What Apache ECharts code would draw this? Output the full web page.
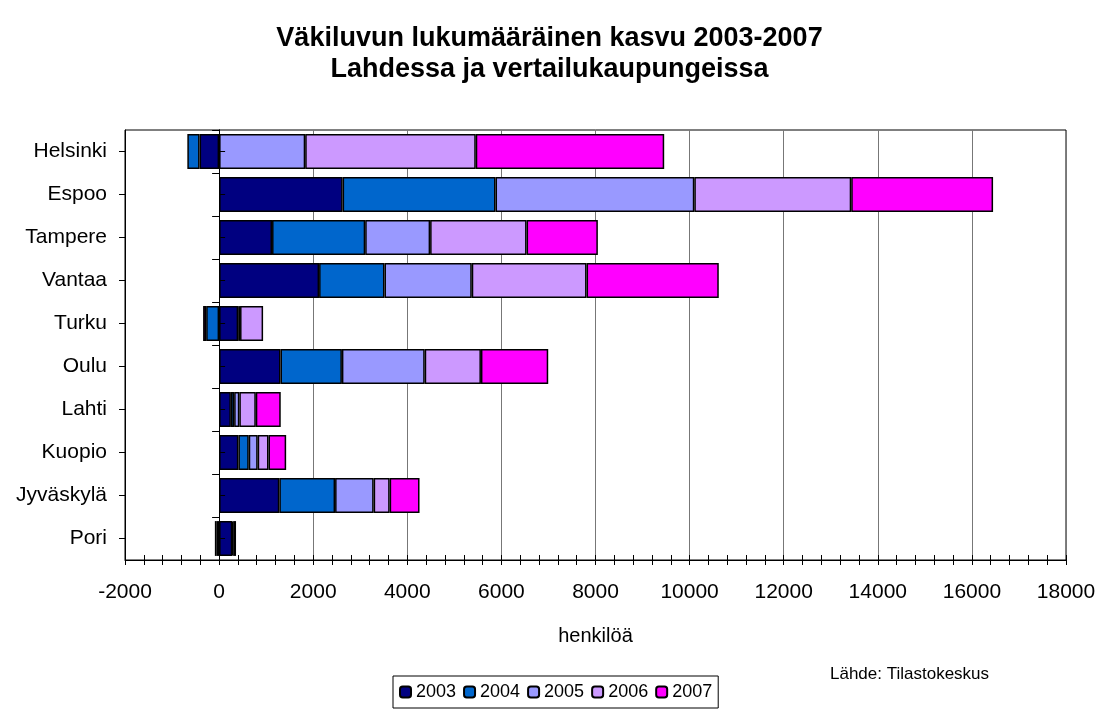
<!DOCTYPE html>
<html>
<head>
<meta charset="utf-8">
<script src="https://cdn.jsdelivr.net/npm/echarts@6/dist/echarts.min.js"></script>
<style>
  html, body { margin: 0; padding: 0; background: #fff; }
  #chart { width: 1099px; height: 713px; }
</style>
</head>
<body>
<div id="chart"></div>
<script>
// kaupungit ylhäältä alas
var cities = ['Helsinki', 'Espoo', 'Tampere', 'Vantaa', 'Turku', 'Oulu', 'Lahti', 'Kuopio', 'Jyväskylä', 'Pori']
var years = ['2003', '2004', '2005', '2006', '2007']
var v2003 = [-415, 2625, 1125, 2125, 405, 1305, 250, 410, 1280, 280]
var v2004 = [-260, 3250, 1980, 1390, -275, 1305, 70, 220, 1185, -50]
var v2005 = [1830, 4225, 1380, 1855, 40, 1760, 110, 190, 820, -40]
var v2006 = [3625, 3335, 2050, 2440, 490, 1195, 350, 230, 340, 20]
var v2007 = [4005, 3015, 1515, 2810, -65, 1430, 530, 375, 635, 60]
var colors = ['#000080', '#0066CC', '#9999FF', '#CC99FF', '#FF00FF']

var font = "'Liberation Sans', Arial, sans-serif"
var myChart = echarts.init(document.getElementById('chart'))

var values = [v2003, v2004, v2005, v2006, v2007]
var series = years.map(function (y, i) {
  return {
    name: y,
    type: 'bar',
    stack: 'kasvu',
    barCategoryGap: '19%',
    itemStyle: { color: colors[i], borderColor: '#000', borderWidth: 1.5 },
    data: values[i]
  }
})

// akseliviiva nollakohdassa + tikit
function markerAxis (extra) {
  var ax = {
    type: 'category',
    data: cities,
    inverse: true,
    position: 'left',
    z: 5,
    axisLine: { show: true, onZero: true, lineStyle: { color: '#000', width: 1 } },
    axisLabel: { show: false },
    splitLine: { show: false }
  }
  return Object.assign(ax, extra)
}

function xBase (extra) {
  var ax = {
    type: 'value',
    min: -2000,
    max: 18000,
    interval: 2000,
    position: 'bottom'
  }
  return Object.assign(ax, extra)
}

var option = {
  animation: false,
  textStyle: { fontFamily: font },
  color: colors,
  title: {
    text: 'Väkiluvun lukumääräinen kasvu 2003-2007\nLahdessa ja vertailukaupungeissa',
    left: 'center',
    top: 18,
    textStyle: { fontFamily: font, fontSize: 27, fontWeight: 'bold', lineHeight: 31, color: '#000' }
  },
  legend: {
    data: years,
    left: 393,
    top: 676,
    orient: 'horizontal',
    itemWidth: 11,
    itemHeight: 11,
    itemGap: 7,
    padding: [7, 6],
    borderColor: '#000',
    borderWidth: 1,
    textStyle: { fontFamily: font, fontSize: 18, color: '#000' }
  },
  graphic: [{
    type: 'text',
    left: 830,
    top: 666,
    style: { text: 'Lähde: Tilastokeskus', font: '17px ' + font, fill: '#000' }
  }],
  grid: {
    left: 125,
    right: 33,
    top: 130,
    bottom: 153,
    show: true,
    borderColor: '#000',
    borderWidth: 1,
    backgroundColor: 'transparent'
  },
  xAxis: [
    xBase({
      name: 'henkilöä',
      nameLocation: 'middle',
      nameGap: 66,
      nameTextStyle: { fontFamily: font, fontSize: 20, color: '#000' },
      axisLine: { show: true, onZero: false, lineStyle: { color: '#000', width: 1 } },
      axisTick: { show: true, length: 5, lineStyle: { color: '#000' } },
      minorTick: { show: true, splitNumber: 5, length: 5, lineStyle: { color: '#000' } },
      axisLabel: {
        fontFamily: font, fontSize: 21, color: '#000', margin: 22,
        formatter: function (v) { return String(v) }
      },
      splitLine: { show: true, lineStyle: { color: '#777', width: 1 } }
    }),
    xBase({
      axisLine: { show: false, onZero: false },
      axisTick: { show: true, inside: true, length: 5, lineStyle: { color: '#000' } },
      minorTick: { show: true, splitNumber: 5, length: 5, lineStyle: { color: '#000' } },
      axisLabel: { show: false },
      splitLine: { show: false }
    })
  ],
  yAxis: [
    {
      type: 'category',
      data: cities,
      inverse: true,
      position: 'left',
      axisLine: { show: false, onZero: false },
      axisTick: { show: false },
      axisLabel: { fontFamily: font, fontSize: 21, color: '#000', margin: 18 },
      splitLine: { show: false }
    },
    markerAxis({ axisTick: { show: true, length: 7, lineStyle: { color: '#000' } } }),
    markerAxis({ axisTick: { show: true, alignWithLabel: true, inside: true, length: 6, lineStyle: { color: '#000' } } }),
    markerAxis({ axisTick: { show: true, alignWithLabel: true, length: 6, lineStyle: { color: '#000' } } })
  ],
  series: series
}

myChart.setOption(option)
</script>
</body>
</html>
